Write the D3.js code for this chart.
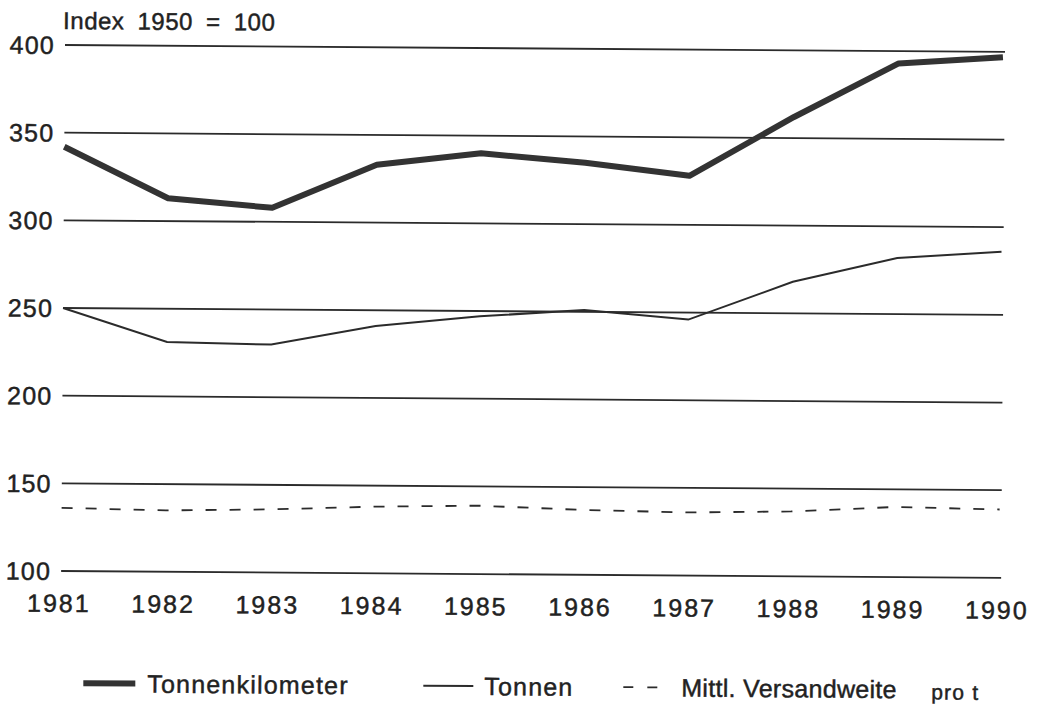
<!DOCTYPE html>
<html lang="de">
<head>
<meta charset="utf-8">
<title>Güterverkehr Index 1950 = 100</title>
<script src="https://cdn.jsdelivr.net/npm/d3@7"></script>
<style>
  body { margin: 0; background: #fff; }
  text { fill: #222; stroke: #222; stroke-width: 0.45px; font-family: "Liberation Sans", Arial, sans-serif; }
</style>
</head>
<body>
<script>
// data
var years = [1981, 1982, 1983, 1984, 1985, 1986, 1987, 1988, 1989, 1990];
var tonnenkilometer = [342, 313, 308, 333, 340, 335, 328, 362, 393, 397];
var tonnen = [250, 231, 230, 241, 247, 251, 246, 268, 282, 286];
var versandweite = [136, 135, 136, 138, 139, 137, 136, 137, 140, 139];
var yTicks = [100, 150, 200, 250, 300, 350, 400];

var w = 1037, h = 706;

var svg = d3.select("body").append("svg")
  .attr("width", w)
  .attr("height", h);

// the scan is a little crooked
var g = svg.append("g").attr("transform", "rotate(0.42, 65, 45)");

var x = d3.scaleLinear().domain([1981, 1990]).range([65, 1003]);
var y = d3.scaleLinear().domain([100, 400]).range([571, 45]);

// gridlines
g.selectAll(".grid").data(yTicks).enter().append("line")
  .attr("x1", 65).attr("x2", 1005)
  .attr("y1", function(d) { return y(d); })
  .attr("y2", function(d) { return y(d); })
  .attr("stroke", "#2b2b2b")
  .attr("stroke-width", 1.8);

// y labels
g.selectAll(".ylab").data(yTicks).enter().append("text")
  .attr("x", 55)
  .attr("y", function(d) { return y(d); })
  .attr("dy", "0.36em")
  .attr("text-anchor", "end")
  .attr("font-size", 25)
  .attr("letter-spacing", 1.2)
  .text(function(d) { return d; });

// x labels
g.selectAll(".xlab").data(years).enter().append("text")
  .attr("x", function(d) { return x(d) - 2; })
  .attr("y", 612)
  .attr("text-anchor", "middle")
  .attr("font-size", 25)
  .attr("letter-spacing", 2)
  .text(function(d) { return d; });

g.append("text")
  .attr("x", 63).attr("y", 29)
  .attr("font-size", 24)
  .attr("letter-spacing", 0.5)
  .attr("word-spacing", 6)
  .text("Index 1950 = 100");

function line(vals) {
  return d3.line()
    .x(function(d, i) { return x(years[i]); })
    .y(function(d) { return y(d); })(vals);
}

g.append("path").attr("d", line(versandweite))
  .attr("fill", "none").attr("stroke", "#2b2b2b")
  .attr("stroke-width", 1.8).attr("stroke-dasharray", "11,13");

g.append("path").attr("d", line(tonnen))
  .attr("fill", "none").attr("stroke", "#2b2b2b")
  .attr("stroke-width", 2);

g.append("path").attr("d", line(tonnenkilometer))
  .attr("fill", "none").attr("stroke", "#333")
  .attr("stroke-width", 6).attr("stroke-linejoin", "round");

// legend
var leg = g.append("g").attr("letter-spacing", 1.2);
leg.append("line").attr("x1", 88).attr("x2", 140).attr("y1", 683).attr("y2", 683)
  .attr("stroke", "#333").attr("stroke-width", 6);
leg.append("text").attr("x", 152).attr("y", 692).attr("font-size", 25)
  .text("Tonnenkilometer");
leg.append("line").attr("x1", 428).attr("x2", 478).attr("y1", 683).attr("y2", 683)
  .attr("stroke", "#2b2b2b").attr("stroke-width", 2);
leg.append("text").attr("x", 489).attr("y", 692).attr("font-size", 25)
  .text("Tonnen");
leg.append("line").attr("x1", 628).attr("x2", 664).attr("y1", 683).attr("y2", 683)
  .attr("stroke", "#2b2b2b").attr("stroke-width", 1.8).attr("stroke-dasharray", "10,14");
leg.append("text").attr("x", 686).attr("y", 692).attr("font-size", 25)
  .attr("letter-spacing", 0.3)
  .text("Mittl. Versandweite");
leg.append("text").attr("x", 936).attr("y", 693).attr("font-size", 21)
  .text("pro t");
</script>
</body>
</html>
